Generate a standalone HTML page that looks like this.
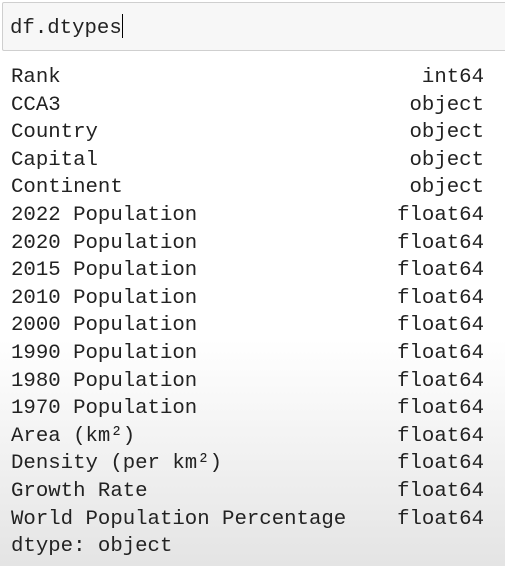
<!DOCTYPE html>
<html><head><meta charset="utf-8"><style>
html,body{margin:0;padding:0;}
body{width:505px;height:566px;overflow:hidden;position:relative;
background:linear-gradient(to bottom,#fff 0px,#fff 340px,#e4e4e4 566px);
font-family:"Liberation Mono",monospace;color:#222;}
#cell{position:absolute;left:2px;top:2px;width:520px;height:47px;background:#f7f7f7;border:1px solid #cfcfcf;border-radius:2px;}
#code{position:absolute;left:10px;top:14px;font-size:20.7px;line-height:28px;white-space:pre;}
#caret{display:inline-block;width:1.5px;height:24px;background:#000;vertical-align:-5px;}
#out{position:absolute;left:11px;top:64px;width:473px;font-size:20.7px;line-height:27.6px;}
.row{display:flex;justify-content:space-between;white-space:pre;height:27.6px;}
</style></head><body>
<div id="cell"></div>
<div id="code">df.dtypes<span id="caret"></span></div>
<div id="out">
<div class="row"><span>Rank</span><span>int64</span></div>
<div class="row"><span>CCA3</span><span>object</span></div>
<div class="row"><span>Country</span><span>object</span></div>
<div class="row"><span>Capital</span><span>object</span></div>
<div class="row"><span>Continent</span><span>object</span></div>
<div class="row"><span>2022 Population</span><span>float64</span></div>
<div class="row"><span>2020 Population</span><span>float64</span></div>
<div class="row"><span>2015 Population</span><span>float64</span></div>
<div class="row"><span>2010 Population</span><span>float64</span></div>
<div class="row"><span>2000 Population</span><span>float64</span></div>
<div class="row"><span>1990 Population</span><span>float64</span></div>
<div class="row"><span>1980 Population</span><span>float64</span></div>
<div class="row"><span>1970 Population</span><span>float64</span></div>
<div class="row"><span>Area (km²)</span><span>float64</span></div>
<div class="row"><span>Density (per km²)</span><span>float64</span></div>
<div class="row"><span>Growth Rate</span><span>float64</span></div>
<div class="row"><span>World Population Percentage</span><span>float64</span></div>
<div class="row"><span>dtype: object</span><span></span></div>
</div>
</body></html>
